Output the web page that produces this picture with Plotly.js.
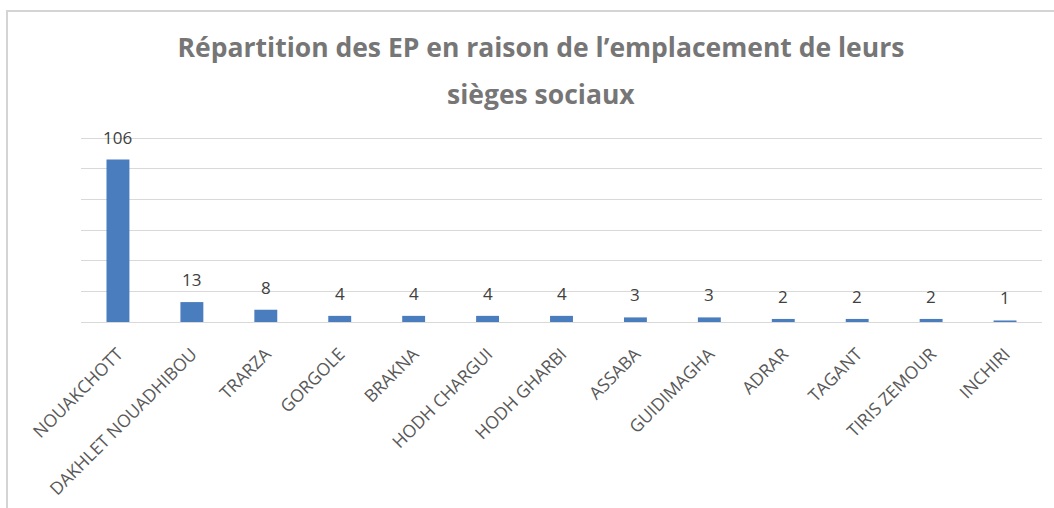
<!DOCTYPE html>
<html>
<head>
<meta charset="utf-8">
<script src="https://cdn.plot.ly/plotly-3.0.1.min.js"></script>
<style>
html,body{margin:0;padding:0;background:#fff;}
#chart{width:1054px;height:508px;}
</style>
</head>
<body>
<div id="chart"></div>
<script>
const categories = ["NOUAKCHOTT","DAKHLET NOUADHIBOU","TRARZA","GORGOLE","BRAKNA","HODH CHARGUI","HODH GHARBI","ASSABA","GUIDIMAGHA","ADRAR","TAGANT","TIRIS ZEMOUR","INCHIRI"];
const values = [106, 13, 8, 4, 4, 4, 4, 3, 3, 2, 2, 2, 1];
const gridValues = [0, 20, 40, 60, 80, 100, 120];
const titleLine1 = "Répartition des EP en raison de l’emplacement de leurs";
const titleLine2 = "sièges sociaux";

const FONT = "Open Sans, sans-serif";
const TITLE_FONT = {family: FONT, size: 26.5, color: "#767676", weight: "bold"};
const PLOT_H = 190;

const trace = {
  type: "bar",
  x: categories,
  y: values,
  marker: {color: "#4a7dbd"},
  hoverinfo: "x+y"
};

const valueLabels = categories.map((c, i) => ({
  x: c, y: values[i], xref: "x", yref: "y",
  text: String(values[i]),
  showarrow: false,
  xanchor: "center", yanchor: "bottom",
  yshift: 9,
  font: {family: FONT, size: 17, color: "#404040"}
}));

const layout = {
  width: 1054,
  height: 508,
  margin: {l: 81, r: 12, t: 132, b: 186},
  paper_bgcolor: "#ffffff",
  plot_bgcolor: "#ffffff",
  bargap: 0.69,
  showlegend: false,
  title: {
    text: titleLine1,
    font: TITLE_FONT,
    x: 541 / 1054, xref: "container", xanchor: "center",
    y: 1 - 48/508, yref: "container", yanchor: "middle"
  },
  annotations: [{
    text: titleLine2,
    showarrow: false,
    xref: "paper", yref: "paper",
    x: (541 - 81) / 961, xanchor: "center",
    y: (322 - 94) / PLOT_H, yanchor: "middle",
    font: TITLE_FONT
  }].concat(valueLabels),
  xaxis: {
    type: "category",
    tickangle: -45,
    tickfont: {family: FONT, size: 17.5, color: "#595959"},
    ticklabelstandoff: 14,
    showline: true,
    linecolor: "#d9d9d9",
    linewidth: 1,
    ticks: "",
    showgrid: false,
    zeroline: false
  },
  yaxis: {
    range: [0, 124],
    tickmode: "array",
    tickvals: gridValues,
    showticklabels: false,
    showgrid: true,
    gridcolor: "#d9d9d9",
    gridwidth: 1,
    zeroline: false,
    ticks: ""
  },
  shapes: [{
    type: "rect",
    xref: "paper", yref: "paper",
    x0: (7 - 81) / 961, x1: (1080 - 81) / 961,
    y0: (322 - 540) / PLOT_H, y1: (322 - 11) / PLOT_H,
    line: {color: "#d4d4d4", width: 2},
    fillcolor: "rgba(0,0,0,0)",
    layer: "below"
  }]
};

Plotly.newPlot("chart", [trace], layout, {displayModeBar: false, staticPlot: true});
</script>
</body>
</html>
